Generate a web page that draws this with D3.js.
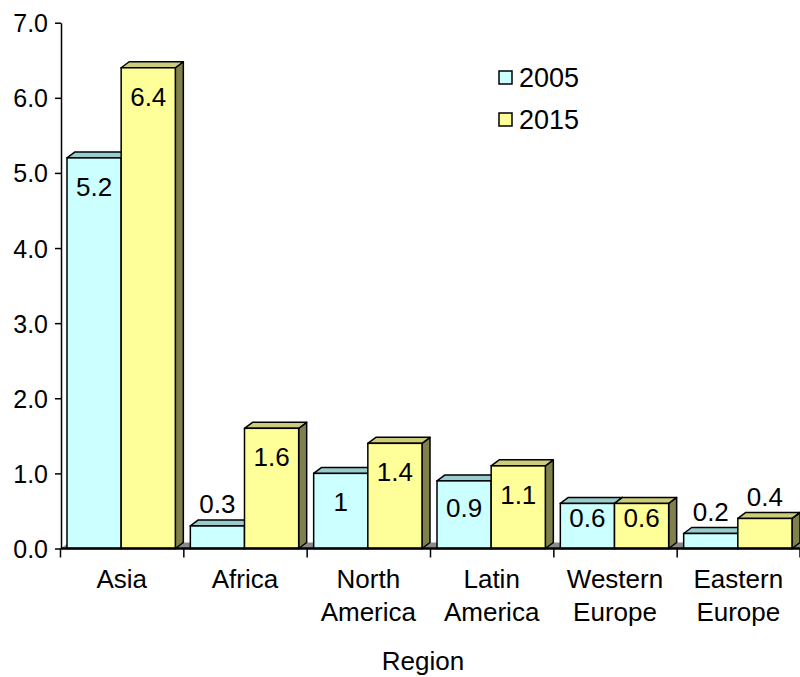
<!DOCTYPE html>
<html>
<head>
<meta charset="utf-8">
<script src="https://cdn.jsdelivr.net/npm/d3@7"></script>
<style>
  html, body { margin: 0; padding: 0; background: #fff; }
  svg { display: block; font-family: "Liberation Sans", Arial, sans-serif; }
</style>
</head>
<body>
<svg id="chart" width="800" height="677"></svg>
<script>
// Regions and values (two survey years)
const regions = ["Asia", "Africa", "North\nAmerica", "Latin\nAmerica", "Western\nEurope", "Eastern\nEurope"];
const years = ["2005", "2015"];
const values2005 = [5.2, 0.3, 1, 0.9, 0.6, 0.2];
const values2015 = [6.4, 1.6, 1.4, 1.1, 0.6, 0.4];
const valueLabels2005 = ["5.2", "0.3", "1", "0.9", "0.6", "0.2"];
const valueLabels2015 = ["6.4", "1.6", "1.4", "1.1", "0.6", "0.4"];
const yTicks = [0, 1, 2, 3, 4, 5, 6, 7];

const colors = {
  "2005": { front: "#ccffff", top: "#99cccc", side: "#668e8e" },
  "2015": { front: "#ffff99", top: "#cccc7a", side: "#80804c" }
};

const svg = d3.select("#chart");
const depthX = 8, depthY = -6;
const plotLeft = 60, plotRight = 800;

const y = d3.scaleLinear().domain([0, 7]).range([548.5, 22.7]);
const x = d3.scaleBand().domain(regions).range([plotLeft, plotRight]);
const gapLeft = 7;
const barW = (x.bandwidth() - gapLeft - depthX) / 2;
const xYear = d3.scaleBand().domain(years).range([0, barW * 2]);

const base = y(0);

// Floor of the 3D plot
svg.append("path")
  .attr("d", `M${plotLeft + 1},${base} L${plotRight},${base} L${plotRight + depthX},${base + depthY} L${plotLeft + 1 + depthX},${base + depthY} Z`)
  .attr("fill", "#8a8a8a");
svg.append("line")
  .attr("x1", plotLeft + 1).attr("y1", base)
  .attr("x2", plotLeft + 1 + depthX).attr("y2", base + depthY)
  .attr("stroke", "#c8c8c8").attr("stroke-width", 1);

// Bars: side face, top face, front face
const rows = regions.map((r, i) => ({
  region: r,
  bars: [
    { year: "2005", value: values2005[i], label: valueLabels2005[i] },
    { year: "2015", value: values2015[i], label: valueLabels2015[i] }
  ]
}));

const groups = svg.selectAll("g.region").data(rows).join("g").attr("class", "region");

groups.each(function(row) {
  const g = d3.select(this);
  row.bars.forEach(b => {
    const x0 = x(row.region) + gapLeft + xYear(b.year);
    const x1 = x0 + barW;
    const yt = y(b.value);
    const c = colors[b.year];
    // side
    g.append("path")
      .attr("d", `M${x1},${base} L${x1},${yt} L${x1 + depthX},${yt + depthY} L${x1 + depthX},${base + depthY} Z`)
      .attr("fill", c.side).attr("stroke", "#000").attr("stroke-width", 1.5).attr("stroke-linejoin", "round");
    // top
    g.append("path")
      .attr("d", `M${x0},${yt} L${x1},${yt} L${x1 + depthX},${yt + depthY} L${x0 + depthX},${yt + depthY} Z`)
      .attr("fill", c.top).attr("stroke", "#000").attr("stroke-width", 1.5).attr("stroke-linejoin", "round");
    // front
    g.append("rect")
      .attr("x", x0).attr("y", yt)
      .attr("width", barW).attr("height", base - yt)
      .attr("fill", c.front).attr("stroke", "#000").attr("stroke-width", 1.5);
  });
});

// Value labels: inside the bar when tall enough, otherwise above it
groups.each(function(row) {
  const g = d3.select(this);
  row.bars.forEach(b => {
    const cx = x(row.region) + gapLeft + xYear(b.year) + barW / 2;
    const yt = y(b.value);
    const h = base - yt;
    const inside = b.value >= 0.5;
    const by = inside ? yt + Math.min(38, 0.53 * h) : yt - 12.5;
    g.append("text")
      .attr("x", cx).attr("y", by)
      .attr("text-anchor", "middle")
      .attr("font-size", 26).attr("fill", "#000")
      .text(b.label);
  });
});

// Base line of the floor
svg.append("line")
  .attr("x1", plotLeft + 1).attr("x2", plotRight)
  .attr("y1", base).attr("y2", base)
  .attr("stroke", "#000").attr("stroke-width", 2.5);

// Category boundary ticks
svg.append("g").selectAll("line")
  .data(regions.map(r => x(r)).concat([plotRight - 0.5]))
  .join("line")
  .attr("x1", d => d + 0.5).attr("x2", d => d + 0.5)
  .attr("y1", base).attr("y2", base + 9)
  .attr("stroke", "#000").attr("stroke-width", 1.5);

// Category labels (two lines where needed)
const catText = svg.append("g").selectAll("text")
  .data(regions)
  .join("text")
  .attr("x", d => x(d) + x.bandwidth() / 2)
  .attr("y", 588)
  .attr("text-anchor", "middle")
  .attr("font-size", 26)
  .attr("fill", "#000");
catText.each(function(d) {
  const t = d3.select(this);
  d.split("\n").forEach((line, i) => {
    t.append("tspan").attr("x", x(d) + x.bandwidth() / 2).attr("dy", i === 0 ? 0 : 33).text(line);
  });
});

// Y axis
const yAxis = svg.append("g")
  .attr("transform", `translate(${plotLeft + 1},0)`)
  .call(d3.axisLeft(y).tickValues(yTicks).tickFormat(d3.format(".1f")).tickSize(6).tickSizeOuter(0).tickPadding(7));
yAxis.select(".domain").attr("stroke", "#000").attr("stroke-width", 1.5);
yAxis.selectAll(".tick line").attr("stroke", "#000").attr("stroke-width", 1.5);
yAxis.selectAll(".tick text")
  .attr("font-size", 25).attr("font-family", "Liberation Sans, Arial, sans-serif")
  .attr("fill", "#000").attr("dy", "0.36em");

// Axis title
svg.append("text")
  .attr("x", 423).attr("y", 670)
  .attr("text-anchor", "middle")
  .attr("font-size", 26).attr("fill", "#000")
  .text("Region");

// Legend
const legend = svg.append("g").selectAll("g")
  .data(years)
  .join("g")
  .attr("transform", (d, i) => `translate(499,${71 + i * 42})`);
legend.append("rect")
  .attr("width", 13).attr("height", 13)
  .attr("fill", d => colors[d].front)
  .attr("stroke", "#000").attr("stroke-width", 1.5);
legend.append("text")
  .attr("x", 20).attr("y", 16)
  .attr("font-size", 27).attr("fill", "#000")
  .text(d => d);
</script>
</body>
</html>
